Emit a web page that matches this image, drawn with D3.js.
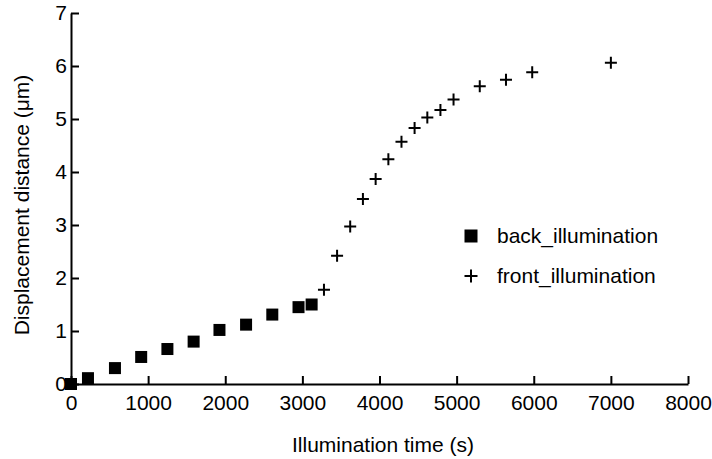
<!DOCTYPE html>
<html>
<head>
<meta charset="utf-8">
<script src="https://cdn.jsdelivr.net/npm/d3@7"></script>
<style>
    body { margin: 0; background: #fff; }
    svg { display: block; font-family: "Liberation Sans", Arial, sans-serif; }
</style>
</head>
<body>
<div id="chart"></div>
<script>
// back illumination series (time in s, displacement in um)
const backTime = [0, 220, 570, 910, 1250, 1590, 1925, 2270, 2610, 2950, 3120];
const backDisp = [0, 0.11, 0.30, 0.51, 0.66, 0.80, 1.02, 1.12, 1.31, 1.45, 1.50];

// front illumination series
const frontTime = [3280, 3450, 3620, 3785, 3950, 4115, 4285, 4455, 4620, 4790, 4960, 5300, 5640, 5980, 7000];
const frontDisp = [1.78, 2.42, 2.97, 3.49, 3.87, 4.24, 4.57, 4.83, 5.03, 5.17, 5.37, 5.62, 5.74, 5.88, 6.06];

const xTicks = [0, 1000, 2000, 3000, 4000, 5000, 6000, 7000, 8000];
const yTicks = [0, 1, 2, 3, 4, 5, 6, 7];

const width = 712, height = 459;
const margin = { top: 13, right: 24, bottom: 75, left: 71 };

const svg = d3.select("#chart")
    .append("svg")
    .attr("width", width)
    .attr("height", height);

const x = d3.scaleLinear()
    .domain([0, 8000])
    .range([margin.left, width - margin.right]);

const y = d3.scaleLinear()
    .domain([0, 7])
    .range([height - margin.bottom, margin.top]);

// Axes with ticks pointing inward
const xAxis = svg.append("g")
    .attr("transform", `translate(0,${y(0)})`)
    .call(d3.axisBottom(x).tickValues(xTicks).tickFormat(d3.format("d"))
        .tickSizeInner(-8).tickSizeOuter(0).tickPadding(11));

const yAxis = svg.append("g")
    .attr("transform", `translate(${x(0)},0)`)
    .call(d3.axisLeft(y).tickValues(yTicks).tickFormat(d3.format("d"))
        .tickSizeInner(-8).tickSizeOuter(0).tickPadding(4));

[xAxis, yAxis].forEach(g => {
    g.selectAll("path, line").attr("stroke", "#000").attr("stroke-width", 2);
    g.selectAll("text")
        .attr("fill", "#000")
        .style("font-size", "21px")
        .style("font-family", "'Liberation Sans', Arial, sans-serif");
});

// Axis titles
svg.append("text")
    .attr("x", 383)
    .attr("y", 452)
    .attr("text-anchor", "middle")
    .style("font-size", "21px")
    .text("Illumination time (s)");

svg.append("text")
    .attr("transform", "translate(29,205) rotate(-90)")
    .attr("text-anchor", "middle")
    .style("font-size", "21px")
    .text("Displacement distance (μm)");

// Back illumination squares
const sq = 12;
svg.append("g")
    .selectAll("rect")
    .data(backTime.map((t, i) => [t, backDisp[i]]))
    .join("rect")
    .attr("x", d => x(d[0]) - sq / 2)
    .attr("y", d => y(d[1]) - sq / 2)
    .attr("width", sq)
    .attr("height", sq)
    .attr("fill", "#000");

// Front illumination plus markers
function plusPath(cx, cy, s) {
    const h = s / 2;
    return `M${cx - h},${cy}H${cx + h}M${cx},${cy - h}V${cy + h}`;
}
svg.append("g")
    .selectAll("path")
    .data(frontTime.map((t, i) => [t, frontDisp[i]]))
    .join("path")
    .attr("d", d => plusPath(x(d[0]), y(d[1]), 12))
    .attr("stroke", "#000")
    .attr("stroke-width", 2)
    .attr("fill", "none");

// Legend
const legend = svg.append("g");
legend.append("rect")
    .attr("x", 471 - 6.5)
    .attr("y", 236 - 6.5)
    .attr("width", 13)
    .attr("height", 13)
    .attr("fill", "#000");
legend.append("text")
    .attr("x", 497)
    .attr("y", 236)
    .attr("dy", "0.35em")
    .style("font-size", "21px")
    .text("back_illumination");
legend.append("path")
    .attr("d", plusPath(471, 276, 13))
    .attr("stroke", "#000")
    .attr("stroke-width", 2);
legend.append("text")
    .attr("x", 497)
    .attr("y", 276)
    .attr("dy", "0.35em")
    .style("font-size", "21px")
    .text("front_illumination");
</script>
</body>
</html>
